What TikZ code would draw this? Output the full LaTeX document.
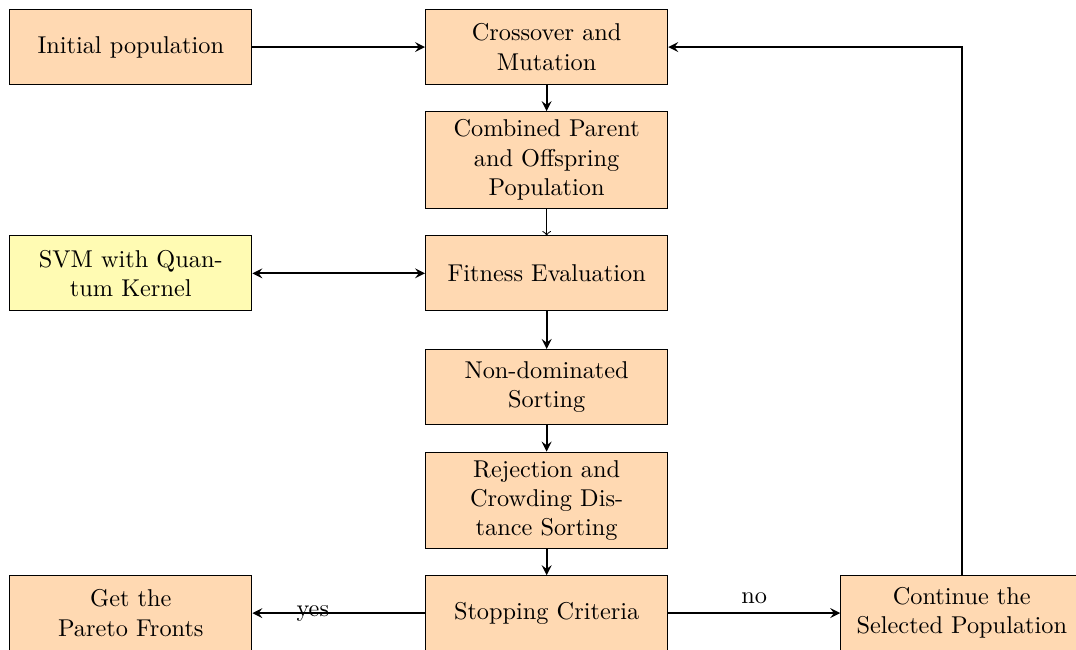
\documentclass[tikz,border=0pt]{standalone}
\usepackage{amsmath}
\usepackage{tikz}
\usetikzlibrary{calc, shapes, positioning, arrows}
\tikzstyle{block}=[rectangle, draw, fill=orange!30, text width=2.9cm, align=center, minimum width=3.5cm, minimum height=1.08cm]
\tikzstyle{flow}=[thick, -stealth]

\begin{document}
\begin{tikzpicture}
\useasboundingbox (0,0) rectangle (15.55,-9.38);
\node [block] (init) at (1.89,-0.68){Initial population};
\node [block] (cross) at (7.9,-0.68){Crossover and Mutation};
\node [block] (comb) at (7.9,-2.31){Combined Parent and Offspring Population};
\node [block] (fit) at (7.9,-3.95){Fitness Evaluation};
\node [block, fill=yellow!30] (svm) at (1.89,-3.95){SVM with Quan-\\tum Kernel};
\node [block] (nds) at (7.9,-5.59){Non-dominated Sorting};
\node [block] (rej) at (7.9,-7.23){Rejection and Crowding Distance Sorting};
\node [block] (stop) at (7.9,-8.86){Stopping Criteria};
\node [block] (pareto) at (1.89,-8.86){Get the\\ Pareto Fronts};
\node [block, text width=3.2cm] (cont) at (13.9,-8.86){Continue the\\ Selected Population};

\draw [flow] (init)--(cross);
\draw [flow] (cross)--(comb);
\draw [->] (comb)--(fit);
\draw [flow, stealth-stealth] (svm)--(fit);
\draw [flow] (fit)--(nds);
\draw [flow] (nds)--(rej);
\draw [flow] (rej)--(stop);
\draw [flow] (stop)-- node[pos=0.65]{yes} (pareto);
\draw [flow] (stop)-- node[above]{no} (cont);
\draw [flow] (cont.north) |- (cross.east);
\end{tikzpicture}
\end{document}
